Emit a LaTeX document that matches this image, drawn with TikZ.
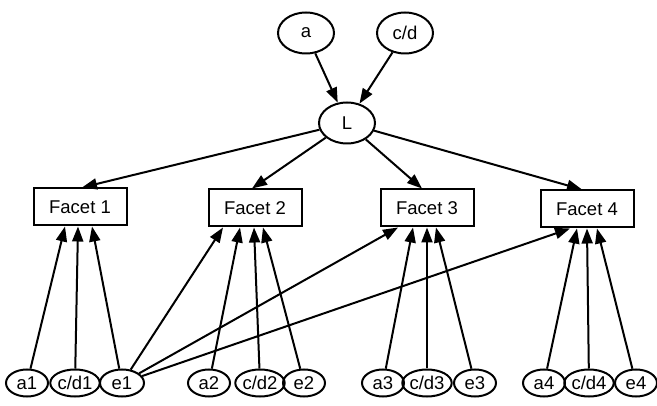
\documentclass[tikz,border=0pt]{standalone}
\usepackage{fontspec}
\setmainfont{Liberation Sans}
\usetikzlibrary{shapes.geometric,arrows.meta}
\begin{document}
\begin{tikzpicture}[x=1pt,y=-1pt,
  every node/.style={font=\fontsize{18.5}{21}\selectfont},
  topell/.style={draw,line width=2pt,ellipse,inner sep=0pt,minimum width=56pt,minimum height=41pt},
  botell/.style={draw,line width=2pt,ellipse,inner sep=0pt,minimum width=42pt,minimum height=27pt},
  facet/.style={draw,line width=2pt,rectangle,inner sep=0pt,minimum width=93pt,minimum height=37pt},
  arr/.style={line width=2pt,-{Triangle[length=15pt,width=11pt]}}]
\useasboundingbox (0,0) rectangle (657,406);
\fill[white] (0,0) rectangle (657,406);
% top
\node[topell] (a) at (306,33) {a};
\node[topell] (cd) at (405,33) {c/d};
\node[topell] (L) at (347,123) {L};
% facets
\node[facet] (f1) at (80,207) {Facet 1};
\node[facet] (f2) at (255,208) {Facet 2};
\node[facet] (f3) at (427,208) {Facet 3};
\node[facet] (f4) at (587,209) {Facet 4};
% bottom
\node[botell] (a1) at (27,383) {a1};
\node[botell] (cd1) at (75,383) {c/d1};
\node[botell,minimum width=44pt] (e1) at (122,383) {e1};
\node[botell] (a2) at (209,383) {a2};
\node[botell] (cd2) at (260,383) {c/d2};
\node[botell] (e2) at (304,383) {e2};
\node[botell] (a3) at (383,383) {a3};
\node[botell] (cd3) at (427,383) {c/d3};
\node[botell] (e3) at (475,383) {e3};
\node[botell] (a4) at (544,383) {a4};
\node[botell] (cd4) at (589,383) {c/d4};
\node[botell] (e4) at (636,383) {e4};
% edges top
\draw[arr] (a) -- (L);
\draw[arr] (cd) -- (L);
\draw[arr] (L) -- ([xshift=2pt]f1.north);
\draw[arr] (L) -- ([xshift=-3pt]f2.north);
\draw[arr] (L) -- ([xshift=-5pt]f3.north);
\draw[arr] (L) -- ([xshift=-5pt]f4.north);
% edges bottom
\draw[arr] (a1) -- ([xshift=-15pt]f1.south);
\draw[arr] (cd1) -- ([xshift=-2pt]f1.south);
\draw[arr] (e1) -- ([xshift=12pt]f1.south);
\draw[arr] (e1) -- ([xshift=-32pt]f2.south);
\draw[arr] (e1) -- ([xshift=-29pt]f3.south);
\draw[arr] (e1) -- ([xshift=-17pt]f4.south);
\draw[arr] (a2) -- ([xshift=-15pt]f2.south);
\draw[arr] (cd2) -- ([xshift=-1pt]f2.south);
\draw[arr] (e2) -- ([xshift=8pt]f2.south);
\draw[arr] (a3) -- ([xshift=-14pt]f3.south);
\draw[arr] (cd3) -- (f3.south);
\draw[arr] (e3) -- ([xshift=9pt]f3.south);
\draw[arr] (a4) -- ([xshift=-10pt]f4.south);
\draw[arr] (cd4) -- (f4.south);
\draw[arr] (e4) -- ([xshift=10pt]f4.south);
\end{tikzpicture}
\end{document}
